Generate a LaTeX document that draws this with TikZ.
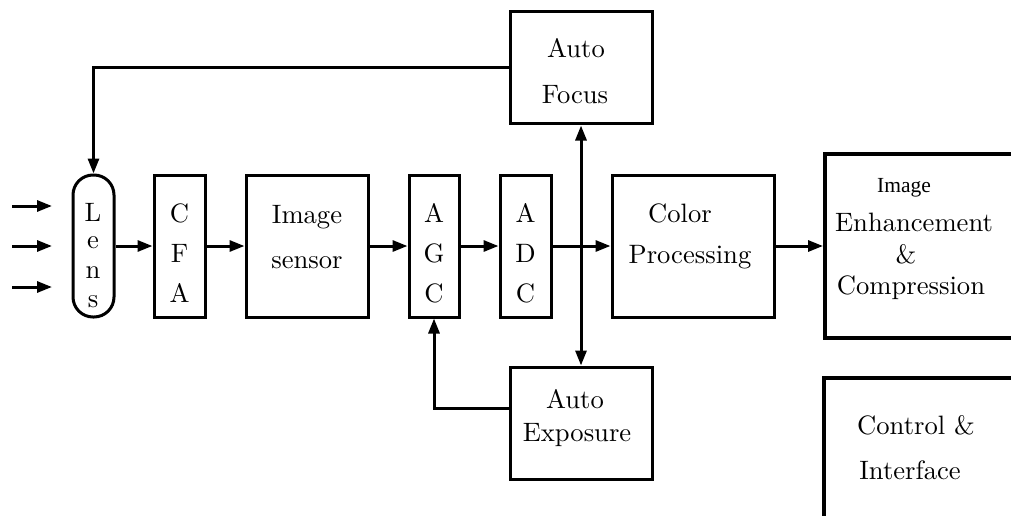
\documentclass[tikz,border=0pt]{standalone}
\usepackage{fontspec}
\newfontfamily\timesfont{Liberation Serif}
\usetikzlibrary{arrows.meta,calc}
\tikzset{
  x=1pt, y=-1pt,
  blk/.style={draw, line width=3pt, minimum width=#1, inner sep=0pt, minimum height=142pt},
  bigblk/.style={draw, line width=4pt, inner sep=0pt},
  lbl/.style={anchor=base, inner sep=0pt, scale=2.66},
  arr/.style={line width=3pt, -{Triangle[length=15pt,width=11pt]}},
}
\begin{document}
\begin{tikzpicture}
\useasboundingbox (0,0) rectangle (1011,516);
\clip (0,0) rectangle (1011,516);

% main signal chain
\node[blk=41pt, rounded corners=20pt] (lens) at (93.5,246) {};
\node[blk=51pt] (cfa) at (179.5,246) {};
\node[blk=122pt] (sensor) at (307,246) {};
\node[blk=50pt] (agc) at (434,246) {};
\node[blk=51pt] (adc) at (525.5,246) {};
\node[blk=162pt] (cp) at (693,246) {};

% control blocks
\node[blk=142pt, minimum height=112pt] (af) at (581,68) {};
\node[blk=142pt, minimum height=112pt] (ae) at (581,423) {};

% output blocks, running past the right edge
\node[bigblk, minimum width=220pt, minimum height=184pt] (enh) at (935,246) {};
\node[bigblk, minimum width=220pt, minimum height=170pt] (ctl) at (934,463) {};

% labels
\node[lbl] (tL) at (93,221) {L};
\node[lbl] (te) at (93,248) {e};
\node[lbl] (tn) at (93,278) {n};
\node[lbl] (ts) at (93,307) {s};

\node[lbl] (tC1) at (179.5,222) {C};
\node[lbl] (tF1) at (179.5,262) {F};
\node[lbl] (tA1) at (179.5,302) {A};

\node[lbl] (tImg) at (307,223) {Image};
\node[lbl] (tSen) at (307,268) {sensor};

\node[lbl] (tA2) at (434,222) {A};
\node[lbl] (tG2) at (434,262) {G};
\node[lbl] (tC2) at (434,302) {C};

\node[lbl] (tA3) at (525.5,222) {A};
\node[lbl] (tD3) at (525.5,262) {D};
\node[lbl] (tC3) at (525.5,302) {C};

\node[lbl] (tColor) at (680,222) {Color};
\node[lbl] (tProc) at (690,263) {Processing};

\node[lbl] (tAuto1) at (576,58) {Auto};
\node[lbl] (tFocus) at (575,103) {Focus};

\node[lbl] (tAuto2) at (575,408) {Auto};
\node[lbl] (tExpo) at (577,441) {Exposure};

\node[anchor=base, inner sep=0pt, font={\timesfont\fontsize{21.5}{24}\selectfont}] (tImg2) at (904,192) {Image};
\node[lbl] (tEnh) at (914,231) {Enhancement};
\node[lbl] (tAmp) at (906,263) {\&};
\node[lbl] (tComp) at (911,294) {Compression};

\node[lbl] (tCtl) at (916,434) {Control \&};
\node[lbl] (tIf) at (910,479) {Interface};

% incoming light
\foreach \i/\y in {1/206,2/246,3/287} {
  \coordinate (in\i) at (12,\y);
  \coordinate (ine\i) at (52,\y);
  \draw[arr] (in\i) -- (ine\i);
}

% forward path
\draw[arr] (lens) -- (cfa);
\draw[arr] (cfa) -- (sensor);
\draw[arr] (sensor) -- (agc);
\draw[arr] (agc) -- (adc);
\draw[arr] (adc) -- (cp);
\draw[arr] (cp) -- (enh);

% feedback loops
\coordinate (tap) at (af.south |- adc.east);
\draw[arr] (tap) -- (af.south);
\draw[arr] (tap) -- (ae.north);
\draw[arr] (af.west) -| (lens.north);
\draw[arr] ([yshift=15pt]ae.west) -| (agc.south);
\end{tikzpicture}
\end{document}
